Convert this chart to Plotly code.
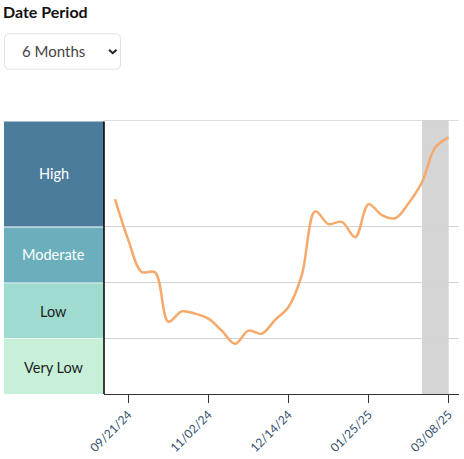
import plotly.graph_objects as go

dates = ["2024-09-14","2024-09-21","2024-09-28","2024-10-05","2024-10-12","2024-10-19","2024-10-26",
         "2024-11-02","2024-11-09","2024-11-16","2024-11-23","2024-11-30","2024-12-07","2024-12-14",
         "2024-12-21","2024-12-28","2025-01-04","2025-01-11","2025-01-18","2025-01-25","2025-02-01",
         "2025-02-08","2025-02-15","2025-02-22","2025-03-01","2025-03-08"]
values = [69.8,55.2,43.75,43.6,25.9,29.6,28.8,27.0,22.7,18.0,22.7,21.6,26.6,31.2,
          42.7,65.5,60.9,61.7,56.2,68.0,64.1,63.0,68.4,75.9,88.4,92.0]
tick_dates = ["2024-09-21","2024-11-02","2024-12-14","2025-01-25","2025-03-08"]
band_names = ["Very Low","Low","Moderate","High"]
band_low = [0,20,40,60]
band_high = [20,40,60,98.2]
band_colors = ["#c8f0d9","#9fdbcf","#6aafbb","#4b7c9b"]
band_text = ["#1c1c1c","#1c1c1c","#ffffff","#ffffff"]
grid_values = [20,40,60]
top_grid = 98.2
shade_range = ["2025-02-22","2025-03-08"]
x_range = ["2024-09-08 06:00","2025-03-13 10:00"]
y_range = [0,98.2]

W, H = 464, 459
L, R, T, B = 104, 459, 119.5, 394.5
FONT = "Lato"
def px(x): return (x - L) / (R - L)
def py(y): return (B - y) / (B - T)

shapes = []
annotations = []
for n, lo, hi, c, tc in zip(band_names, band_low, band_high, band_colors, band_text):
    top = hi - 0.5 if n == "High" else hi - 0.3
    shapes.append(dict(type="rect", xref="paper", yref="y", x0=px(4), x1=px(104), y0=lo, y1=top,
                       fillcolor=c, line_width=0, layer="above"))
    annotations.append(dict(xref="paper", yref="y", x=px(53.5), y=(lo + hi) / 2, text=n, showarrow=False,
                            yshift=-1 if lo < 40 else 0,
                            font=dict(family=FONT, size=14.5, color=tc), xanchor="center", yanchor="middle"))
shapes.append(dict(type="rect", xref="x", yref="paper", x0=shade_range[0], x1=shade_range[1], y0=0, y1=1,
                   fillcolor="#d5d5d5", line_width=0, layer="below"))
shapes.append(dict(type="line", xref="paper", yref="y", x0=0, x1=1, y0=top_grid, y1=top_grid,
                   line=dict(color="#d3d3d3", width=1.5), layer="above"))
shapes.append(dict(type="line", xref="paper", yref="y", x0=0, x1=0, y0=0, y1=97.7,
                   line=dict(color="#000000", width=1.5), layer="above"))
# dropdown box
x0, x1, y0, y1, r = px(4.5), px(120.5), py(33), py(68.5), 5
rx, ry = r / (R - L), r / (B - T)
shapes.append(dict(type="path", xref="paper", yref="paper", layer="above",
    path=f"M {x0+rx} {y0} L {x1-rx} {y0} Q {x1} {y0} {x1} {y0-ry} L {x1} {y1+ry} Q {x1} {y1} {x1-rx} {y1} "
         f"L {x0+rx} {y1} Q {x0} {y1} {x0} {y1+ry} L {x0} {y0-ry} Q {x0} {y0} {x0+rx} {y0} Z",
    fillcolor="#ffffff", line=dict(color="#dee2e6", width=1)))
shapes.append(dict(type="path", xref="paper", yref="paper", layer="above",
    path=f"M {px(109)} {py(49)} L {px(112.7)} {py(52.5)} L {px(116.5)} {py(49)}",
    fillcolor="rgba(0,0,0,0)", line=dict(color="#222222", width=2)))
annotations.append(dict(xref="paper", yref="paper", x=px(1), y=py(11), text="<b>Date Period</b>", showarrow=False,
                        font=dict(family=FONT, size=16, color="#111111"), xanchor="left", yanchor="middle"))
annotations.append(dict(xref="paper", yref="paper", x=px(53.5), y=py(50.5), text="6 Months", showarrow=False,
                        font=dict(family=FONT, size=15, color="#444444"), xanchor="center", yanchor="middle"))

fig = go.Figure(go.Scatter(x=dates, y=values, mode="lines", hoverinfo="skip",
                           line=dict(color="#f5a96b", width=2.5, shape="spline", smoothing=1.0)))
fig.update_layout(width=W, height=H, margin=dict(l=L, r=W - R, t=T, b=H - B, pad=0, autoexpand=False),
                  paper_bgcolor="#ffffff", plot_bgcolor="#ffffff", showlegend=False,
                  shapes=shapes, annotations=annotations)
fig.update_xaxes(type="date", range=x_range, tickvals=tick_dates, tickformat="%m/%d/%y", tickangle=-45,
                 ticks="outside", ticklen=8, tickcolor="#333333", tickwidth=1, automargin=False,
                 showline=True, linecolor="#333333", linewidth=1, showgrid=False, zeroline=False,
                 tickfont=dict(family=FONT, size=12, color="#35506e"))
fig.update_yaxes(range=y_range, tickvals=grid_values, showticklabels=False, ticks="", showgrid=True, automargin=False,
                 gridcolor="#d3d3d3", gridwidth=1, zeroline=False, showline=False)
fig.write_html("out.html", config=dict(displayModeBar=False),
               post_script="document.body.style.margin='0';document.body.style.overflow='hidden';")
